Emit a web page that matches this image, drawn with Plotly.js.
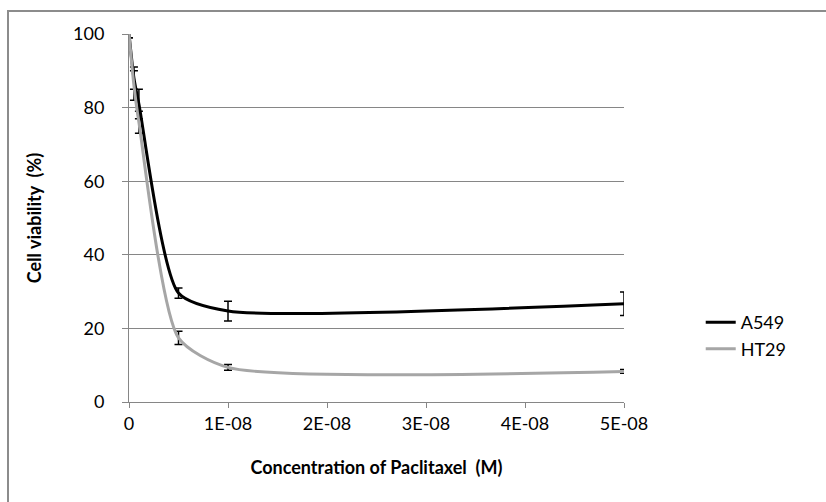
<!DOCTYPE html>
<html>
<head>
<meta charset="utf-8">
<script src="https://cdn.plot.ly/plotly-3.0.1.min.js"></script>
<style>
  body { margin: 0; background: #fff; }
  #chart { position: absolute; left: 0; top: 0; width: 826px; height: 502px; }
  #frame { position: absolute; left: 7px; top: 10px; width: 900px; height: 600px; border: 2px solid #8c8c8c; pointer-events: none; }
</style>
</head>
<body>
<div id="chart"></div>
<div id="frame"></div>
<script>
const concentration = [0, 5e-10, 1e-9, 5e-9, 1e-8, 5e-8];
const a549 = [100, 88, 81, 29.6, 24.7, 26.7];
const a549Err = [1, 3, 4, 1.4, 2.7, 3.2];
const ht29 = [100, 86, 76, 17.4, 9.4, 8.3];
const ht29Err = [1, 4, 3, 1.8, 0.8, 0.5];
const xTickVals = [0, 1e-8, 2e-8, 3e-8, 4e-8, 5e-8];
const xTickText = ["0", "1E-08", "2E-08", "3E-08", "4E-08", "5E-08"];
const yTickVals = [0, 20, 40, 60, 80, 100];

const font = "Lato, 'Open Sans', sans-serif";

const traces = [
  {
    name: "A549", x: concentration, y: a549, type: "scatter", mode: "lines",
    line: { color: "#000000", width: 3, shape: "spline", smoothing: 0.65 },
    error_y: { type: "data", array: a549Err, visible: true, color: "#000000", thickness: 1.5, width: 4 }
  },
  {
    name: "HT29", x: concentration, y: ht29, type: "scatter", mode: "lines",
    line: { color: "#a6a6a6", width: 3, shape: "spline", smoothing: 0.65 },
    error_y: { type: "data", array: ht29Err, visible: true, color: "#000000", thickness: 1.5, width: 4 }
  }
];

const layout = {
  width: 826, height: 502,
  margin: { l: 129, r: 202, t: 34, b: 100 },
  paper_bgcolor: "#ffffff", plot_bgcolor: "#ffffff",
  font: { family: font, size: 18, color: "#000" },
  showlegend: true,
  legend: { x: 1.155, y: 0.266, xanchor: "left", yanchor: "top", font: { family: font, size: 18 }, tracegroupgap: 4 },
  xaxis: {
    range: [0, 5e-8], tickmode: "array", tickvals: xTickVals, ticktext: xTickText,
    showgrid: false, zeroline: false, showline: true, linecolor: "#868686", linewidth: 1,
    ticks: "outside", ticklen: 5, tickcolor: "#868686",
    tickfont: { family: font, size: 18 },
    title: { text: "<b>Concentration of Paclitaxel  (M)</b>", font: { family: font, size: 18 }, standoff: 28 }
  },
  yaxis: {
    range: [0, 100], tickmode: "array", tickvals: yTickVals,
    showgrid: true, gridcolor: "#868686", gridwidth: 1, zeroline: false,
    showline: true, linecolor: "#868686", linewidth: 1,
    ticks: "outside", ticklen: 6, tickcolor: "#868686", ticklabelstandoff: 14,
    tickfont: { family: font, size: 18 },
    title: { text: "<b>Cell viability  (%)</b>", font: { family: font, size: 18 }, standoff: 26 }
  }
};

Plotly.newPlot("chart", traces, layout, { displayModeBar: false, staticPlot: true });
</script>
</body>
</html>
